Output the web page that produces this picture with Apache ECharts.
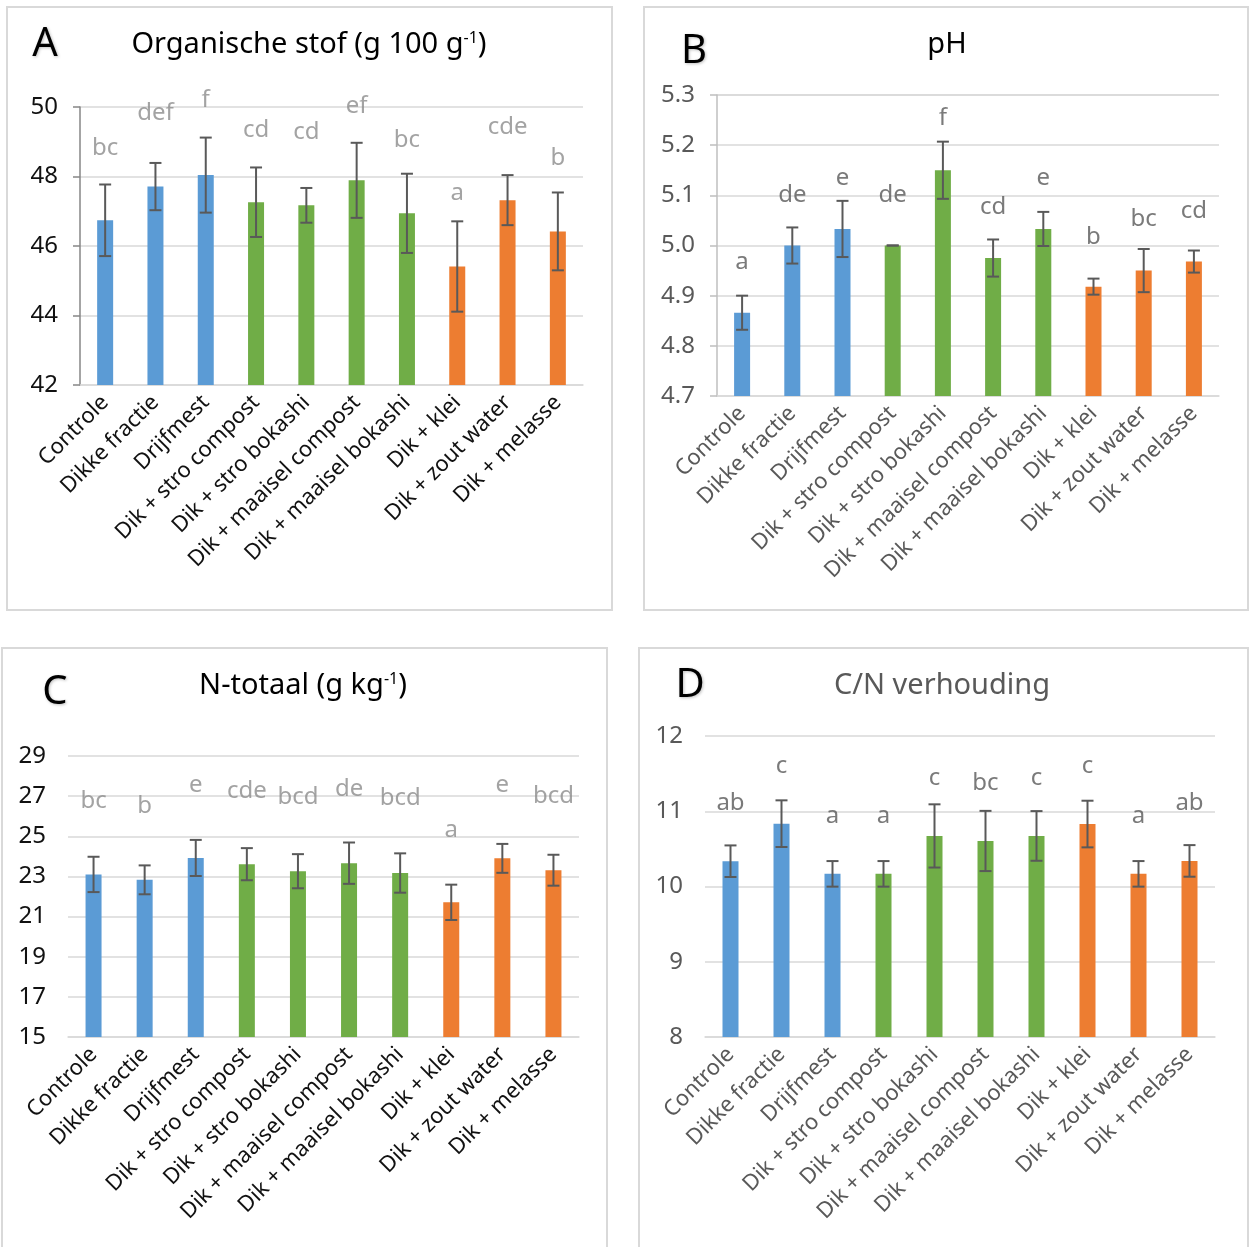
<!DOCTYPE html>
<html><head><meta charset="utf-8">
<script src="https://cdn.jsdelivr.net/npm/echarts@6/dist/echarts.min.js"></script>
<style>html,body{margin:0;padding:0;background:#fff}#c{width:1250px;height:1247px}</style>
</head><body><div id="c"></div>
<script>
// ---------- data ----------
const categories = ['Controle','Dikke fractie','Drijfmest','Dik + stro compost','Dik + stro bokashi','Dik + maaisel compost','Dik + maaisel bokashi','Dik + klei','Dik + zout water','Dik + melasse'];
const groups = ['ref','ref','ref','mix','mix','mix','mix','add','add','add'];

const osMean = [46.74,47.71,48.04,47.26,47.17,47.89,46.94,45.41,47.32,46.42];
const osErr = [1.03,0.68,1.08,1.0,0.5,1.08,1.14,1.3,0.72,1.12];
const osLetters = ['bc','def','f','cd','cd','ef','bc','a','cde','b'];
const osLetterAt = [48.82,49.83,50.2,49.34,49.28,50.03,49.05,47.53,49.42,48.53];
const osTicks = [42,44,46,48,50];

const phMean = [4.866,5.0,5.033,5.0,5.15,4.975,5.033,4.918,4.95,4.968];
const phErr = [0.034,0.036,0.056,0,0.057,0.037,0.034,0.016,0.043,0.022];
const phLetters = ['a','de','e','de','f','cd','e','b','bc','cd'];
const phLetterAt = [4.967,5.101,5.135,5.101,5.254,5.077,5.135,5.017,5.053,5.069];
const phTicks = ['4.7','4.8','4.9','5.0','5.1','5.2','5.3'];

const ntMean = [23.1,22.83,23.92,23.61,23.26,23.66,23.17,21.71,23.9,23.31];
const ntErr = [0.88,0.72,0.9,0.8,0.85,1.03,0.98,0.88,0.72,0.77];
const ntLetters = ['bc','b','e','cde','bcd','de','bcd','a','e','bcd'];
const ntLetterAt = [26.76,26.51,27.54,27.26,26.95,27.33,26.88,25.31,27.54,27.0];
const ntTicks = [15,17,19,21,23,25,27,29];

const cnMean = [10.336,10.835,10.168,10.168,10.672,10.605,10.672,10.83,10.168,10.34];
const cnErr = [0.21,0.31,0.17,0.17,0.42,0.4,0.33,0.31,0.17,0.21];
const cnLetters = ['ab','c','a','a','c','bc','c','c','a','ab'];
const cnLetterAt = [11.11,11.6,10.94,10.94,11.435,11.377,11.435,11.6,10.94,11.11];
const cnTicks = [8,9,10,11,12];

// ---------- styling ----------
const FONT = 'Noto Sans';
const groupColor = {ref:'#5B9BD5', mix:'#70AD47', add:'#ED7D31'};
const GRID_COLOR = '#d9d9d9';

const panels = [
  {mean:osMean, err:osErr, letters:osLetters, letterAt:osLetterAt, ticks:osTicks, dec:0,
   grid:{left:80, top:107, width:503, height:278}, txt:'#111', letterColor:'#8c8c8c', axisLine:'#868686'},
  {mean:phMean, err:phErr, letters:phLetters, letterAt:phLetterAt, ticks:phTicks, dec:1,
   grid:{left:717, top:95, width:502, height:301}, txt:'#595959', letterColor:'#595959', axisLine:'#bfbfbf'},
  {mean:ntMean, err:ntErr, letters:ntLetters, letterAt:ntLetterAt, ticks:ntTicks, dec:0,
   grid:{left:68, top:756, width:511, height:281}, txt:'#111', letterColor:'#8c8c8c', axisLine:null},
  {mean:cnMean, err:cnErr, letters:cnLetters, letterAt:cnLetterAt, ticks:cnTicks, dec:0,
   grid:{left:705, top:736, width:510, height:301}, txt:'#595959', letterColor:'#595959', axisLine:null}
];

const grids = [], xAxes = [], yAxes = [], series = [];
panels.forEach((p, k) => {
  const tv = p.ticks.map(Number);
  const mn = tv[0], mx = tv[tv.length-1], iv = tv[1]-tv[0];
  grids.push(Object.assign({containLabel:false}, p.grid));
  xAxes.push({
    type:'category', gridIndex:k, data:categories, boundaryGap:true,
    axisTick:{show:false},
    axisLine:{show:true, lineStyle:{color:GRID_COLOR, width:1.5}},
    axisLabel:{interval:0, rotate:45, fontSize:22, fontFamily:FONT, color:p.txt, margin:14}
  });
  yAxes.push({
    type:'value', gridIndex:k, min:mn, max:mx, interval:iv,
    axisLine:{show:!!p.axisLine, lineStyle:{color:p.axisLine || GRID_COLOR, width:1.5}},
    axisTick:{show:!!p.axisLine, length:7, lineStyle:{color:p.axisLine || GRID_COLOR, width:1.5}},
    axisLabel:{fontSize:24, fontFamily:FONT, color:p.txt, margin:22,
      formatter:v => v.toFixed(p.dec)},
    splitLine:{show:true, lineStyle:{color:GRID_COLOR, width:1.5}}
  });
  series.push({
    type:'bar', xAxisIndex:k, yAxisIndex:k, barWidth:16,
    data:p.mean.map((m,i) => ({value:m, itemStyle:{color:groupColor[groups[i]]}})),
    z:2
  });
  series.push({
    type:'custom', xAxisIndex:k, yAxisIndex:k, z:5, clip:false,
    data:p.mean.map((m,i) => [i, m, p.err[i]]),
    renderItem:(params, api) => {
      const x = api.value(0), y = api.value(1), e = api.value(2);
      const t = api.coord([x, y+e]), b = api.coord([x, y-e]);
      const hw = 6, st = {stroke:'#595959', lineWidth:2};
      return {type:'group', children:[
        {type:'line', shape:{x1:t[0], y1:t[1], x2:b[0], y2:b[1]}, style:st},
        {type:'line', shape:{x1:t[0]-hw, y1:t[1], x2:t[0]+hw, y2:t[1]}, style:st},
        {type:'line', shape:{x1:b[0]-hw, y1:b[1], x2:b[0]+hw, y2:b[1]}, style:st}
      ]};
    }
  });
  series.push({
    type:'scatter', xAxisIndex:k, yAxisIndex:k, z:6, clip:false, silent:true,
    symbol:'circle', symbolSize:1, itemStyle:{color:'rgba(0,0,0,0)'},
    data:p.letterAt.map((v,i) => [i, v]),
    label:{show:true, position:'inside', formatter:q => p.letters[q.dataIndex],
      fontSize:24, fontFamily:FONT, color:p.letterColor}
  });
});

function border(x, y, w, h){
  return {type:'rect', shape:{x:x, y:y, width:w, height:h}, style:{fill:'none', stroke:GRID_COLOR, lineWidth:2}, z:0};
}
function bigLetter(t, x, y){
  return {type:'text', x:x, y:y, z:10, style:{text:t, fontSize:40, fontFamily:FONT, fill:'#000',
    align:'center', verticalAlign:'middle', textShadowColor:'rgba(0,0,0,0.25)', textShadowBlur:3, textShadowOffsetX:1, textShadowOffsetY:1}};
}
function title(text, x, y, color){
  return {type:'text', x:x, y:y, z:10, style:{text:text, fontSize:29, fontFamily:FONT, fill:color,
    align:'center', verticalAlign:'middle',
    rich:{s:{fontSize:16, fontFamily:FONT, fill:color, verticalAlign:'top', lineHeight:18}}}};
}

const chart = echarts.init(document.getElementById('c'), null, {renderer:'canvas'});
chart.setOption({
  animation:false,
  backgroundColor:'#fff',
  grid:grids, xAxis:xAxes, yAxis:yAxes, series:series,
  graphic:[
    border(7,7,605,603), border(644,7,604,603), border(2,648,605,610), border(639,648,609,610),
    bigLetter('A',45,45), bigLetter('B',694,52), bigLetter('C',55,693), bigLetter('D',690,686),
    title('Organische stof (g 100 g{s|-1})', 309, 45, '#000'),
    title('pH', 947, 45, '#000'),
    title('N-totaal (g kg{s|-1})', 303, 686, '#000'),
    title('C/N verhouding', 942, 686, '#595959')
  ]
});
</script></body></html>
